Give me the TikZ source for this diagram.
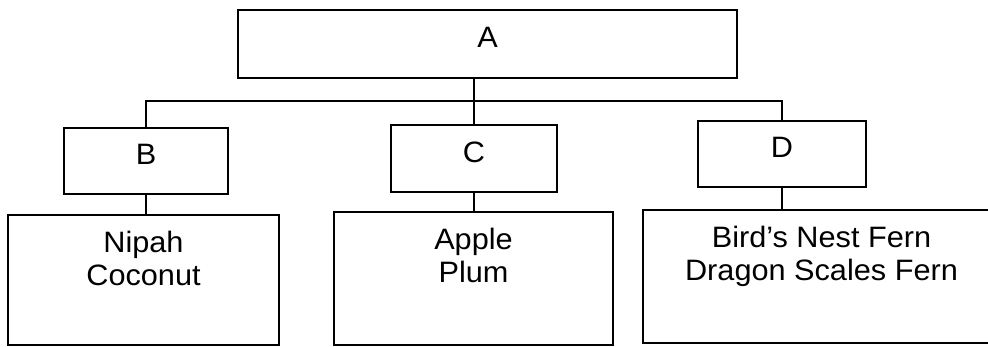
\documentclass[tikz,border=0pt]{standalone}
\usepackage{fontspec}
\setmainfont[FakeStretch=1.04]{Liberation Sans}
\usetikzlibrary{positioning}

\tikzset{
    catbox/.style={draw, line width=1.5pt, inner sep=0pt, text height=20pt, text depth=12pt},
    leafbox/.style={draw, line width=1.5pt, inner sep=0pt},
    leaftext/.style={align=center, inner sep=0pt},
    link/.style={line width=1.5pt}
}

\begin{document}
\begin{tikzpicture}[x=1pt, y=-1pt, font=\fontsize{29.5}{33}\selectfont]
        \useasboundingbox (0, 0) rectangle (988, 347);
        \clip (0, 0) rectangle (988, 347);

        % Niveau 1 : A (haut)
        \node [catbox, minimum width=499pt, minimum height=68pt] (A) at (487.5, 44) {A};

        % Niveau 2 : B, C, D
        \node [catbox, minimum width=164pt, minimum height=66pt] (B) at (146, 161) {B};
        \node [catbox, minimum width=166pt, minimum height=67pt] (C) at (474, 158.5) {C};
        \node [catbox, minimum width=168pt, minimum height=66pt] (D) at (782, 154) {D};

        % Niveau 3 : exemples (bas, coupés)
        \node [leafbox, minimum width=271pt, minimum height=130pt] (nb) at (143.5, 280) {};
        \node [leafbox, minimum width=279pt, minimum height=133pt] (nc) at (473.5, 278.5) {};
        \node [leafbox, minimum width=357pt, minimum height=133pt] (nd) at (821.5, 276.5) {};

        \node [leaftext, below=17pt of nb.north] (nbt) {Nipah\\Coconut};
        \node [leaftext, below=17pt of nc.north] (nct) {Apple\\Plum};
        \node [leaftext, below=17pt of nd.north] (ndt) {Bird’s Nest Fern\\Dragon Scales Fern};

        % Liaisons
        \coordinate (bar) at (0, 101);
        \draw [link] (C.north) -- (C.north |- A.south);
        \draw [link] (B.north) |- (bar -| D.north) -- (D.north);
        \draw [link] (B.south) -- (B.south |- nb.north);
        \draw [link] (C.south) -- (C.south |- nc.north);
        \draw [link] (D.south) -- (D.south |- nd.north);
    \end{tikzpicture}
\end{document}
